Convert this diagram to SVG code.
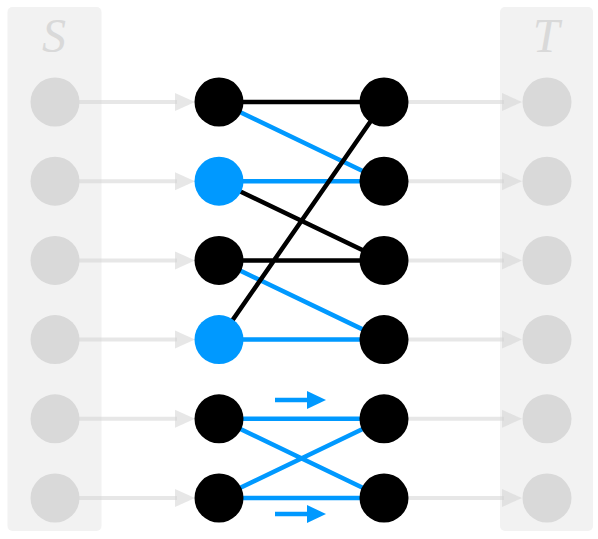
<svg xmlns="http://www.w3.org/2000/svg" width="598" height="539" viewBox="0 0 598 539">
<defs>
<style>
.panel{fill:#f2f2f2}
.lbl{font-family:"Liberation Serif",serif;font-style:italic;font-size:48px;fill:#d9d9d9;text-anchor:middle}
.gnode{fill:#d9d9d9}
.bnode{fill:#000}
.cnode{fill:#0099ff}
.gline{stroke:#d4d4d4;stroke-opacity:0.55;stroke-width:4;fill:none}
.ghead{fill:#d4d4d4;fill-opacity:0.55}
.blk{stroke:#000;stroke-width:4.5;fill:none}
.blu{stroke:#0099ff;stroke-width:4.5;fill:none}
</style>
</defs>
<g id="panel-S"><rect class="panel" x="7.5" y="7" width="94" height="524" rx="5"/><text class="lbl" x="54" y="52">S</text></g>
<g id="panel-T"><rect class="panel" x="500" y="7" width="93" height="524" rx="5"/><text class="lbl" x="546" y="52">T</text></g>
<g id="connectors">
<g id="source-arrows">
<path class="gline" d="M79 102H177M79 181.2H177M79 260.4H177M79 339.6H177M79 418.8H177M79 498H177"/>
<path class="ghead" d="M175 93L195 102L175 111ZM175 172.2L195 181.2L175 190.2ZM175 251.4L195 260.4L175 269.4ZM175 330.6L195 339.6L175 348.6ZM175 409.8L195 418.8L175 427.8ZM175 489L195 498L175 507Z"/>
</g>
<g id="sink-arrows">
<path class="gline" d="M408 102H504M408 181.2H504M408 260.4H504M408 339.6H504M408 418.8H504M408 498H504"/>
<path class="ghead" d="M502 93L522 102L502 111ZM502 172.2L522 181.2L502 190.2ZM502 251.4L522 260.4L502 269.4ZM502 330.6L522 339.6L502 348.6ZM502 409.8L522 418.8L502 427.8ZM502 489L522 498L502 507Z"/>
</g>
<g id="blue-edges">
<path class="blu" d="M219 102L384 181.2M219 181.2H384M219 260.4L384 339.6M219 339.6H384"/>
<path class="blu" d="M219 418.8H384M219 418.8L384 498M219 498L384 418.8M219 498H384"/>
</g>
<g id="black-edges">
<path class="blk" d="M219 102H384M219 181.2L384 260.4M219 260.4H384M219 339.6L384 102"/>
</g>
<g id="flow-arrows">
<path class="blu" d="M275 400H310" stroke-width="5"/>
<path fill="#0099ff" d="M307 391L326 400L307 409Z"/>
<path class="blu" d="M275 514H310" stroke-width="5"/>
<path fill="#0099ff" d="M307 505L326 514L307 523Z"/>
</g>
</g>
<g id="source-nodes">
<circle class="gnode" cx="55" cy="102" r="24.5"/>
<circle class="gnode" cx="55" cy="181.2" r="24.5"/>
<circle class="gnode" cx="55" cy="260.4" r="24.5"/>
<circle class="gnode" cx="55" cy="339.6" r="24.5"/>
<circle class="gnode" cx="55" cy="418.8" r="24.5"/>
<circle class="gnode" cx="55" cy="498" r="24.5"/>
</g>
<g id="sink-nodes">
<circle class="gnode" cx="547" cy="102" r="24.5"/>
<circle class="gnode" cx="547" cy="181.2" r="24.5"/>
<circle class="gnode" cx="547" cy="260.4" r="24.5"/>
<circle class="gnode" cx="547" cy="339.6" r="24.5"/>
<circle class="gnode" cx="547" cy="418.8" r="24.5"/>
<circle class="gnode" cx="547" cy="498" r="24.5"/>
</g>
<g id="left-nodes">
<circle id="L1" class="bnode" cx="219" cy="102" r="24.5"/>
<circle id="L2" class="cnode" cx="219" cy="181.2" r="24.5"/>
<circle id="L3" class="bnode" cx="219" cy="260.4" r="24.5"/>
<circle id="L4" class="cnode" cx="219" cy="339.6" r="24.5"/>
<circle id="L5" class="bnode" cx="219" cy="418.8" r="24.5"/>
<circle id="L6" class="bnode" cx="219" cy="498" r="24.5"/>
</g>
<g id="right-nodes">
<circle id="R1" class="bnode" cx="384" cy="102" r="24.5"/>
<circle id="R2" class="bnode" cx="384" cy="181.2" r="24.5"/>
<circle id="R3" class="bnode" cx="384" cy="260.4" r="24.5"/>
<circle id="R4" class="bnode" cx="384" cy="339.6" r="24.5"/>
<circle id="R5" class="bnode" cx="384" cy="418.8" r="24.5"/>
<circle id="R6" class="bnode" cx="384" cy="498" r="24.5"/>
</g>
</svg>
